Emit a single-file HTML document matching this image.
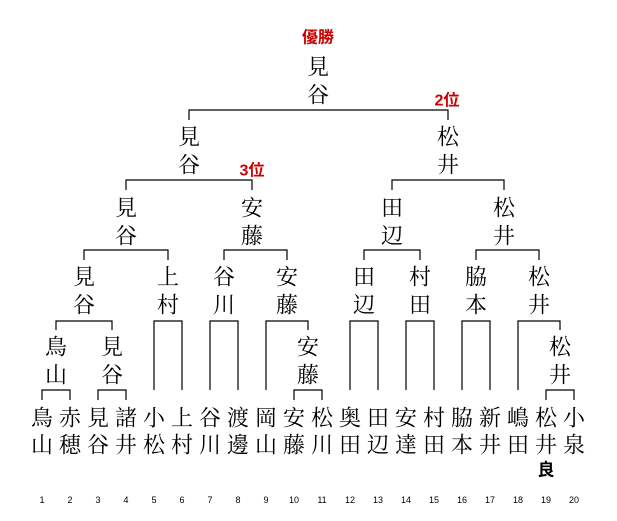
<!DOCTYPE html>
<html><head><meta charset="utf-8"><style>
html,body{margin:0;padding:0;background:#fff;}
svg{display:block;}
.s{font-family:"Liberation Serif","Noto Serif CJK SC","Noto Sans CJK JP",serif;}
.g{font-family:"Liberation Sans","Noto Sans CJK JP",sans-serif;}
</style></head><body>
<svg width="617" height="521" viewBox="0 0 617 521" xmlns="http://www.w3.org/2000/svg">
<g stroke="#000" stroke-width="1.2" fill="none">
<path d="M42 400V390H70V400"/>
<path d="M98 400V390H126V400"/>
<path d="M294 400V390H322V400"/>
<path d="M546 400V390H574V400"/>
<path d="M154 390V321H182V390"/>
<path d="M210 390V321H238V390"/>
<path d="M266 390V321H308V330"/>
<path d="M350 390V321H378V390"/>
<path d="M406 390V321H434V390"/>
<path d="M462 390V321H490V390"/>
<path d="M518 390V321H560V330"/>
<path d="M56 330V321H112V330"/>
<path d="M84 260V250H168V260"/>
<path d="M224 260V250H287V260"/>
<path d="M364 260V250H420V260"/>
<path d="M476 260V250H539V260"/>
<path d="M126 190V180H252V190"/>
<path d="M392 190V180H504V190"/>
<path d="M189 120V110H448V120"/>
</g>
<g class="s" font-size="22" text-anchor="middle" dominant-baseline="central" fill="#000">
<text x="42" y="418">鳥</text><text x="42" y="445">山</text>
<text x="70" y="418">赤</text><text x="70" y="445">穂</text>
<text x="98" y="418">見</text><text x="98" y="445">谷</text>
<text x="126" y="418">諸</text><text x="126" y="445">井</text>
<text x="154" y="418">小</text><text x="154" y="445">松</text>
<text x="182" y="418">上</text><text x="182" y="445">村</text>
<text x="210" y="418">谷</text><text x="210" y="445">川</text>
<text x="238" y="418">渡</text><text x="238" y="445">邊</text>
<text x="266" y="418">岡</text><text x="266" y="445">山</text>
<text x="294" y="418">安</text><text x="294" y="445">藤</text>
<text x="322" y="418">松</text><text x="322" y="445">川</text>
<text x="350" y="418">奥</text><text x="350" y="445">田</text>
<text x="378" y="418">田</text><text x="378" y="445">辺</text>
<text x="406" y="418">安</text><text x="406" y="445">達</text>
<text x="434" y="418">村</text><text x="434" y="445">田</text>
<text x="462" y="418">脇</text><text x="462" y="445">本</text>
<text x="490" y="418">新</text><text x="490" y="445">井</text>
<text x="518" y="418">嶋</text><text x="518" y="445">田</text>
<text x="546" y="418">松</text><text x="546" y="445">井</text>
<text x="574" y="418">小</text><text x="574" y="445">泉</text>
<text x="56" y="347">鳥</text><text x="56" y="375">山</text>
<text x="112" y="347">見</text><text x="112" y="375">谷</text>
<text x="308" y="347">安</text><text x="308" y="375">藤</text>
<text x="560" y="347">松</text><text x="560" y="375">井</text>
<text x="84" y="277">見</text><text x="84" y="305">谷</text>
<text x="168" y="277">上</text><text x="168" y="305">村</text>
<text x="224" y="277">谷</text><text x="224" y="305">川</text>
<text x="287" y="277">安</text><text x="287" y="305">藤</text>
<text x="364" y="277">田</text><text x="364" y="305">辺</text>
<text x="420" y="277">村</text><text x="420" y="305">田</text>
<text x="476" y="277">脇</text><text x="476" y="305">本</text>
<text x="539" y="277">松</text><text x="539" y="305">井</text>
<text x="126" y="208">見</text><text x="126" y="236">谷</text>
<text x="252" y="208">安</text><text x="252" y="236">藤</text>
<text x="392" y="208">田</text><text x="392" y="236">辺</text>
<text x="504" y="208">松</text><text x="504" y="236">井</text>
<text x="189" y="137">見</text><text x="189" y="165">谷</text>
<text x="448" y="137">松</text><text x="448" y="165">井</text>
<text x="318" y="67">見</text><text x="318" y="95">谷</text>
</g>
<text class="g" x="546" y="470" font-size="17" font-weight="bold" text-anchor="middle" dominant-baseline="central">良</text>
<g fill="#c00" font-weight="bold" font-size="16" text-anchor="middle" dominant-baseline="central">
<text class="g" x="318" y="38">優勝</text>
<text class="g" x="447" y="101">2位</text>
<text class="g" x="252" y="171">3位</text>
</g>
<g font-size="9" text-anchor="middle" fill="#000">
<text class="g" x="42" y="503">1</text><text class="g" x="70" y="503">2</text><text class="g" x="98" y="503">3</text><text class="g" x="126" y="503">4</text>
<text class="g" x="154" y="503">5</text><text class="g" x="182" y="503">6</text><text class="g" x="210" y="503">7</text><text class="g" x="238" y="503">8</text>
<text class="g" x="266" y="503">9</text><text class="g" x="294" y="503">10</text><text class="g" x="322" y="503">11</text><text class="g" x="350" y="503">12</text>
<text class="g" x="378" y="503">13</text><text class="g" x="406" y="503">14</text><text class="g" x="434" y="503">15</text><text class="g" x="462" y="503">16</text>
<text class="g" x="490" y="503">17</text><text class="g" x="518" y="503">18</text><text class="g" x="546" y="503">19</text><text class="g" x="574" y="503">20</text>
</g>
</svg>
</body></html>
